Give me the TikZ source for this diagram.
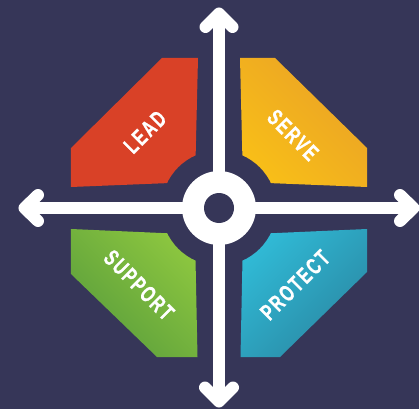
\documentclass[tikz,border=0pt]{standalone}
\usepackage{fontspec}
\usetikzlibrary{calc}
\newfontfamily\labelfont{Liberation Sans}[FakeStretch=0.68,LetterSpace=9,FakeBold=0.9]
\definecolor{navy}{RGB}{54,54,88}
\definecolor{leadred}{RGB}{217,65,39}
\definecolor{servelight}{RGB}{248,190,24}
\definecolor{servedark}{RGB}{234,162,38}
\definecolor{greenlight}{RGB}{139,197,63}
\definecolor{greendark}{RGB}{90,158,60}
\definecolor{cyanlight}{RGB}{48,185,213}
\definecolor{cyandark}{RGB}{42,136,163}
\tikzset{
  panel/.style={draw=none},
  lbl/.style={text=white, inner sep=0pt,
    font=\labelfont\bfseries\fontsize{23}{24}\selectfont},
  bar/.style={draw=white, line width=12pt},
  chevron/.style={draw=white, line width=12pt, line cap=round, line join=round}
}
\begin{document}
\begin{tikzpicture}[x=1pt,y=1pt]
  % backdrop
  \fill[navy] (-219,-201) rectangle (200,208);
  \useasboundingbox (-219,-201) rectangle (200,208);

  % four quadrant panels with chamfered outer corners
  \path[panel, fill=leadred]
    (-148,21) -- (-148,60) -- (-57,150) -- (-21,150) -- (-24,26) -- cycle;
  \path[panel, top color=servedark, bottom color=servelight, shading angle=-45]
    (148,21) -- (148,60) -- (56,150) -- (21,150) -- (24,26) -- cycle;
  \path[panel, top color=greenlight, bottom color=greendark, shading angle=-45]
    (-148,-21) -- (-148,-66) -- (-62,-149) -- (-21.5,-149) -- (-24,-26.5) -- cycle;
  \path[panel, top color=cyanlight, bottom color=cyandark, shading angle=45]
    (148,-21) -- (148,-64) -- (61,-149) -- (21.5,-149) -- (24,-26.5) -- cycle;

  % round cut-out around the hub
  \fill[navy] (0,0) circle (57.5);

  % arrow tips of the cross
  \coordinate (N) at (0,194.5);
  \coordinate (S) at (0,-193.5);
  \coordinate (W) at (-194.5,0);
  \coordinate (E) at (194.5,0);

  \draw[bar] (S) -- (N);
  \draw[bar] (W) -- (E);
  \draw[chevron] ($(N)+(-13.5,-13.5)$) -- (N) -- ($(N)+(13.5,-13.5)$);
  \draw[chevron] ($(S)+(-14,14)$) -- (S) -- ($(S)+(14,14)$);
  \draw[chevron] ($(W)+(13.5,13)$) -- (W) -- ($(W)+(13.5,-13)$);
  \draw[chevron] ($(E)+(-13.5,13)$) -- (E) -- ($(E)+(-13.5,-13)$);

  % hub ring
  \fill[white] (0,0) circle (37);
  \fill[navy] (0,0) circle (15);

  % labels
  \node[lbl, rotate=45]  (lead)    at (-74,76)  {LEAD};
  \node[lbl, rotate=-45] (serve)   at (74,73)   {SERVE};
  \node[lbl, rotate=-45] (support) at (-80,-77) {SUPPORT};
  \node[lbl, rotate=45]  (protect) at (76,-77)  {PROTECT};
\end{tikzpicture}
\end{document}
